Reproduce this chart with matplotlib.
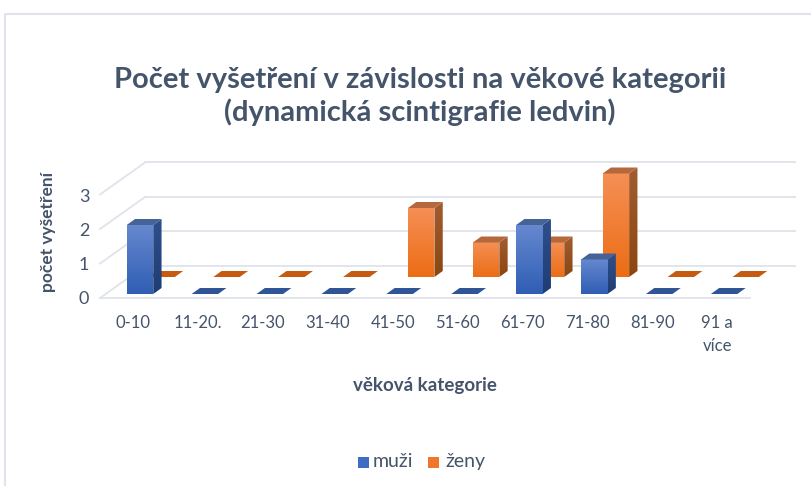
import numpy as np
import matplotlib
matplotlib.use('Agg')
import matplotlib.pyplot as plt
from matplotlib.patches import Polygon, Rectangle
from matplotlib.colors import LinearSegmentedColormap

categories = ['0-10', '11-20.', '21-30', '31-40', '41-50', '51-60', '61-70', '71-80', '81-90', '91 a\nvíce']
muzi = [2, 0, 0, 0, 0, 0, 2, 1, 0, 0]
zeny = [0, 0, 0, 0, 2, 1, 1, 3, 0, 0]
yticks = [0, 1, 2, 3]

title = 'Počet vyšetření v závislosti na věkové kategorii\n(dynamická scintigrafie ledvin)'
xlabel = 'věková kategorie'
ylabel = 'počet vyšetření'
legend_names = ['muži', 'ženy']

TXT = '#44546a'
GRID = '#dfe3eb'

# sizes in pixels of the picture, converted to data units below
W, H = 812, 486
UX = 64.9
UY = 34.5
X0 = 140.0   # px of first blue bar centre
Y0 = 298.0   # px of value 0 on the front floor

plt.rcParams['font.family'] = ['Lato', 'DejaVu Sans']

fig = plt.figure(figsize=(W / 100, H / 100), dpi=100)
ax = fig.add_axes([0, 0, 1, 1])
ax.set_xlim(-X0 / UX, (W - X0) / UX)
ax.set_ylim((Y0 - H) / UY, Y0 / UY)
ax.axis('off')

def dx(px):
    return px / UX

def dy(px):
    return px / UY

def gradient(pts, top, bottom, z):
    pts = np.array(pts)
    cm = LinearSegmentedColormap.from_list('g', [top, bottom])
    ext = [pts[:, 0].min(), pts[:, 0].max(), pts[:, 1].min(), pts[:, 1].max()]
    im = ax.imshow(np.linspace(0, 1, 64).reshape(-1, 1), cmap=cm, extent=ext,
                   origin='upper', aspect='auto', zorder=z, interpolation='bilinear')
    poly = Polygon(pts, closed=True, transform=ax.transData, fc='none', ec='none')
    ax.add_patch(poly)
    im.set_clip_path(poly)

def bar3(x, base, val, w, c, z):
    # c: front top, front bottom, side top, side bottom, lid, flat lid
    ddx, ddy = dx(8.3), dy(6.0)
    l, r = x - w / 2, x + w / 2
    if val == 0:
        ax.add_patch(Polygon([(l, base), (r, base), (r + ddx, base + ddy), (l + ddx, base + ddy)],
                             closed=True, fc=c[5], ec='none', zorder=z))
        return
    t = base + val
    gradient([(l, base), (r, base), (r, t), (l, t)], c[0], c[1], z)
    gradient([(r, base), (r + ddx, base + ddy), (r + ddx, t + ddy), (r, t)], c[2], c[3], z)
    ax.add_patch(Polygon([(l, t), (r, t), (r + ddx, t + ddy), (l + ddx, t + ddy)],
                         closed=True, fc=c[4], ec='none', zorder=z))

# walls and floor
back_x, back_y = dx(45), dy(32)
left = dx(100 - X0)
right = dx(750 - X0)
for v in yticks:
    ax.plot([left + back_x, right + back_x], [v + back_y, v + back_y], color=GRID, lw=1.3, zorder=1)
    ax.plot([left, left + back_x], [v, v + back_y], color=GRID, lw=1.3, zorder=1)
ax.plot([left, right], [0, 0], color=GRID, lw=1.3, zorder=1)

blue = ['#6688cf', '#2f5eb4', '#2f4f8c', '#1f3c74', '#466398', '#2f5597']
orange = ['#f58f55', '#ec6d15', '#a35c30', '#8a4610', '#b5683c', '#c55a11']
w = 26.5 / UX
for i in range(len(categories)):
    bar3(i + dx(21.6), dy(4 + 17), zeny[i], w, orange, 3 + i * 0.01)
for i in range(len(categories)):
    bar3(i, dy(4), muzi[i], w, blue, 4 + i * 0.01)

# texts, y positions in px from top
def px_y(p):
    return (Y0 - p) / UY

def px_x(p):
    return (p - X0) / UX

ax.text(px_x(420), px_y(96.5), title, ha='center', va='center', color=TXT, fontsize=21,
        fontweight='bold', linespacing=1.2)
for v in yticks:
    ax.text(px_x(84), v + dy(-1 - v * 0.5), str(v), ha='center', va='center', color=TXT, fontsize=13)
for i, c in enumerate(categories):
    ax.text(i - dx(7), px_y(315), c, ha='center', va='top', color=TXT, fontsize=12, linespacing=1.55)
ax.text(px_x(425), px_y(385), xlabel, ha='center', va='center', color=TXT, fontsize=13.5, fontweight='bold')
ax.text(px_x(48), px_y(232), ylabel, ha='center', va='center', color=TXT, fontsize=12.5,
        fontweight='bold', rotation=90)

# legend
for px, name, col, tx in [(358, legend_names[0], '#3f6cc4', 373), (428, legend_names[1], '#f0762a', 445)]:
    ax.add_patch(Rectangle((px_x(px), px_y(468)), dx(11), dy(11), fc=col, ec='none', zorder=5))
    ax.text(px_x(tx), px_y(461.5), name, ha='left', va='center', color=TXT, fontsize=14)

# chart frame
ax.plot([px_x(4.5), px_x(4.5), px_x(812)], [px_y(486), px_y(14.5), px_y(14.5)], color=GRID, lw=1.5, zorder=1)

ax.set_xlim(-X0 / UX, (W - X0) / UX)
ax.set_ylim((Y0 - H) / UY, Y0 / UY)
fig.savefig('out.png', dpi=100)
